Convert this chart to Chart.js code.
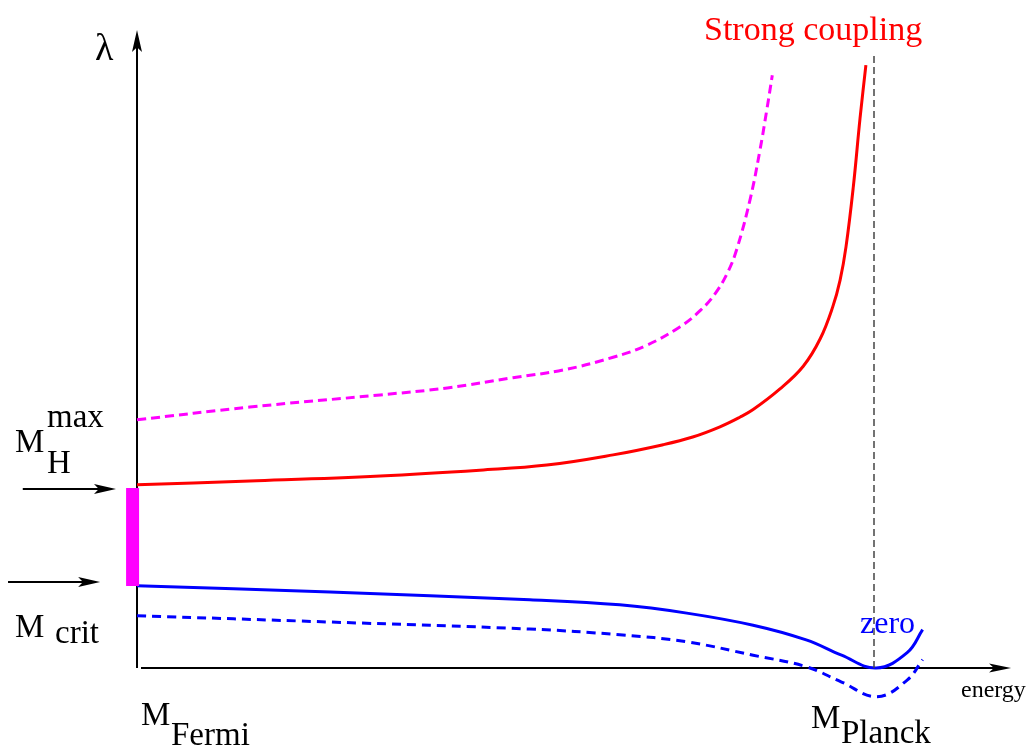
<!DOCTYPE html>
<html>
<head>
<meta charset="utf-8">
<script src="https://cdn.jsdelivr.net/npm/chart.js@4.4.1/dist/chart.umd.min.js"></script>
<style>
  html, body { margin: 0; padding: 0; background: #fff; }
  #wrap { position: relative; width: 1027px; height: 749px; }
</style>
</head>
<body>
<div id="wrap"><canvas id="chart"></canvas></div>
<script>
// sketch units: M_Fermi at energy 0, M_Planck at energy 100, lambda axis tip at 100
const redEnergy = [0, 15.3, 33.0, 46.5, 55.6, 64.6, 71.4, 75.4, 79.1, 81.8, 83.6, 87.2, 90.4, 92.7, 94.4, 95.4, 96.2, 97.2, 98.1, 98.9];
const redLambda = [28.7, 29.3, 30.1, 31.0, 31.8, 33.4, 35.0, 36.2, 37.8, 39.3, 40.5, 43.7, 47.3, 51.6, 56.6, 60.8, 66.0, 75.5, 86.1, 94.5];

const magentaEnergy = [0, 15.3, 33.0, 42.1, 51.0, 57.8, 64.6, 69.2, 73.7, 76.4, 78.4, 80.1, 81.4, 83.2, 84.5, 85.5, 86.2];
const magentaLambda = [38.9, 40.9, 42.8, 43.9, 45.5, 46.7, 48.7, 50.6, 53.5, 56.0, 58.6, 61.9, 65.7, 73.5, 81.0, 87.8, 92.9];

const blueEnergy = [0, 26.2, 53.3, 65.5, 74.6, 83.6, 90.8, 95.6, 100.3, 104.5, 106.6];
const blueLambda = [12.9, 11.9, 10.7, 9.9, 8.6, 6.7, 4.4, 2.0, 0, 2.4, 6.0];

const blueDashEnergy = [0, 26.2, 53.3, 65.5, 74.6, 83.6, 90.8, 95.6, 100.4, 104.5, 106.6];
const blueDashLambda = [8.2, 7.2, 6.1, 5.2, 4.1, 2.0, 0.2, -2.2, -4.5, -1.9, 1.3];

// Higgs mass window on the lambda axis
const windowEnergy = [-0.6, -0.6];
const windowLambda = [12.85, 28.2];

// M_Planck marker
const planckEnergy = [100, 100];
const planckLambda = [0, 96.1];

// axis extents and the two side arrows (M_H^max, M_crit)
const axisEnergyEnd = 118.6;
const axisLambdaTop = 100;
const sideArrowLambda = [28.06, 13.48];
const sideArrowFrom = [-15.5, -17.5];
const sideArrowTo = [-2.85, -5.0];

const pts = (xs, ys) => xs.map((v, i) => ({ x: v, y: ys[i] }));

function arrowHead(ctx, tx, ty, ang, len, half) {
  const c = Math.cos(ang), s = Math.sin(ang);
  const bx = tx - c * len, by = ty - s * len;
  const nx = tx - c * len * 0.78, ny = ty - s * len * 0.78;
  ctx.beginPath();
  ctx.moveTo(tx, ty);
  ctx.lineTo(bx - s * half, by + c * half);
  ctx.lineTo(nx, ny);
  ctx.lineTo(bx + s * half, by - c * half);
  ctx.closePath();
  ctx.fill();
}

const sketchAxes = {
  id: 'sketchAxes',
  beforeDatasetsDraw(chart) {
    const { ctx, scales: { x, y } } = chart;
    const x0 = x.getPixelForValue(0), y0 = y.getPixelForValue(0);
    ctx.save();
    ctx.strokeStyle = '#000';
    ctx.fillStyle = '#000';
    ctx.lineWidth = 2;
    // lambda axis
    const yTop = y.getPixelForValue(axisLambdaTop);
    ctx.beginPath();
    ctx.moveTo(x0, y0);
    ctx.lineTo(x0, yTop + 10);
    ctx.stroke();
    arrowHead(ctx, x0, yTop, -Math.PI / 2, 22, 5);
    // energy axis
    const xEnd = x.getPixelForValue(axisEnergyEnd);
    ctx.beginPath();
    ctx.moveTo(x0 + 4, y0);
    ctx.lineTo(xEnd - 10, y0);
    ctx.stroke();
    arrowHead(ctx, xEnd, y0, 0, 22, 4.5);
    // side arrows
    sideArrowLambda.forEach((lv, i) => {
      const py = y.getPixelForValue(lv);
      const a = x.getPixelForValue(sideArrowFrom[i]);
      const b = x.getPixelForValue(sideArrowTo[i]);
      ctx.beginPath();
      ctx.moveTo(a, py);
      ctx.lineTo(b - 10, py);
      ctx.stroke();
      arrowHead(ctx, b, py, 0, 22, 5);
    });
    ctx.restore();
  },
  afterDraw(chart) {
    const { ctx } = chart;
    const serif = (size) => size + 'px "Liberation Serif", "DejaVu Serif", serif';
    const put = (txt, px, py, size, color) => {
      ctx.font = serif(size);
      ctx.fillStyle = color || '#000';
      ctx.fillText(txt, px, py);
    };
    ctx.save();
    ctx.textBaseline = 'alphabetic';
    ctx.textAlign = 'left';
    put('λ', 95, 60, 38);
    put('Strong coupling', 704, 40, 34, '#ff0000');
    put('M', 15, 452, 33);
    put('max', 47, 427, 33);
    put('H', 47, 473, 33);
    put('M', 15, 637, 33);
    put('crit', 55, 643, 33);
    put('M', 141, 725, 33);
    put('Fermi', 171, 745, 33);
    put('M', 811, 728, 33);
    put('Planck', 841, 743, 33);
    put('energy', 961, 697, 24);
    put('zero', 860, 633, 32, '#0000ff');
    ctx.restore();
  }
};

const line = (data, color, width, dash, extra) => Object.assign({
  data, borderColor: color, borderWidth: width, borderDash: dash || [],
  pointRadius: 0, fill: false, tension: 0.4, borderCapStyle: 'butt'
}, extra || {});

new Chart(document.getElementById('chart'), {
  type: 'line',
  data: {
    datasets: [
      line(pts(planckEnergy, planckLambda), '#444', 1.5, [7, 4], { tension: 0 }),
      line(pts(windowEnergy, windowLambda), '#ff00ff', 13, [], { tension: 0 }),
      line(pts(magentaEnergy, magentaLambda), '#ff00ff', 3, [9, 5]),
      line(pts(redEnergy, redLambda), '#ff0000', 3),
      line(pts(blueDashEnergy, blueDashLambda), '#0000ff', 3, [9, 6]),
      line(pts(blueEnergy, blueLambda), '#0000ff', 3),
    ]
  },
  options: {
    responsive: true,
    maintainAspectRatio: false,
    animation: false,
    layout: { padding: 0 },
    plugins: { legend: { display: false }, tooltip: { enabled: false } },
    scales: {
      x: { type: 'linear', display: false, min: -18.59, max: 120.76 },
      y: { type: 'linear', display: false, min: -12.70, max: 104.70 },
    },
  },
  plugins: [sketchAxes],
});
</script>
</body>
</html>
